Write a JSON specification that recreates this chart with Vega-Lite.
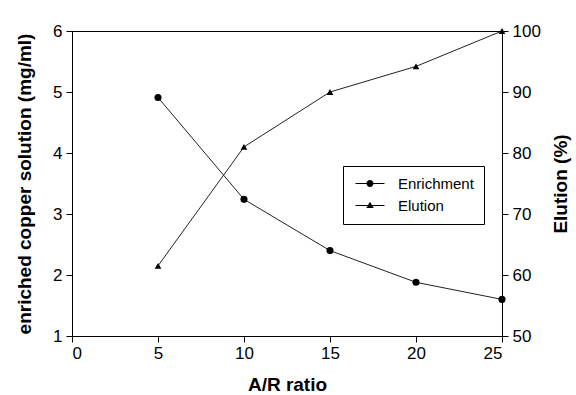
{
  "$schema": "https://vega.github.io/schema/vega-lite/v6.json",
  "width": 430,
  "height": 305,
  "autosize": {"type": "none"},
  "padding": {"left": 72, "top": 31, "right": 74, "bottom": 59},
  "background": "white",
  "config": {
    "font": "Liberation Sans",
    "view": {"stroke": "black", "strokeWidth": 1},
    "axis": {
      "grid": false,
      "domainColor": "black",
      "tickColor": "black",
      "tickSize": 6,
      "labelColor": "black",
      "labelFontSize": 17,
      "titleFontSize": 19,
      "titleFontWeight": "bold",
      "titleColor": "black",
      "labelFont": "Liberation Sans",
      "titleFont": "Liberation Sans"
    }
  },
  "data": {
    "values": [
      {"ar": 5, "Enrichment": 4.91, "Elution": 61.5},
      {"ar": 10, "Enrichment": 3.24, "Elution": 81.0},
      {"ar": 15, "Enrichment": 2.4, "Elution": 90.0},
      {"ar": 20, "Enrichment": 1.88, "Elution": 94.2},
      {"ar": 25, "Enrichment": 1.6, "Elution": 100.0}
    ]
  },
  "encoding": {
    "x": {
      "field": "ar",
      "type": "quantitative",
      "scale": {"domain": [0, 25], "nice": false},
      "axis": {"title": "A/R ratio", "values": [0, 5, 10, 15, 20, 25], "labelPadding": 3, "titlePadding": 14}
    }
  },
  "layer": [
    {
      "encoding": {
        "y": {
          "field": "Enrichment",
          "type": "quantitative",
          "scale": {"domain": [1, 6], "nice": false, "zero": false},
          "axis": {"orient": "left", "title": "enriched copper solution (mg/ml)", "values": [1, 2, 3, 4, 5, 6], "titlePadding": 18, "labelPadding": 4}
        }
      },
      "layer": [
        {"mark": {"type": "line", "color": "#222", "strokeWidth": 1}, "encoding": {}},
        {"mark": {"type": "point", "shape": "circle", "filled": true, "color": "black", "size": 50, "opacity": 1}, "encoding": {}}
      ]
    },
    {
      "encoding": {
        "y": {
          "field": "Elution",
          "type": "quantitative",
          "scale": {"domain": [50, 100], "nice": false, "zero": false},
          "axis": {"orient": "right", "title": "Elution (%)", "titleAngle": 270, "values": [50, 60, 70, 80, 90, 100], "titlePadding": 30, "labelPadding": 4}
        }
      },
      "layer": [
        {"mark": {"type": "line", "color": "#222", "strokeWidth": 1}, "encoding": {}},
        {"mark": {"type": "point", "shape": "triangle-up", "filled": true, "color": "black", "size": 45, "opacity": 1}, "encoding": {}}
      ]
    },
    {
      "transform": [{"fold": ["Enrichment", "Elution"], "as": ["series", "v"]}],
      "mark": {"type": "point", "opacity": 0, "filled": true, "fill": "black"},
      "encoding": {
        "shape": {
          "field": "series",
          "type": "nominal",
          "scale": {
            "domain": ["Enrichment", "Elution"],
            "range": [
              "M-1,-0.1H4.8V0.1H-1Z M2.6,0A0.7,0.7 0 1 1 1.2,0A0.7,0.7 0 1 1 2.6,0Z",
              "M-1,-0.1H4.8V0.1H-1Z M1.9,-0.75L2.65,0.5L1.15,0.5Z"
            ]
          },
          "legend": {
            "title": null,
            "orient": "none",
            "legendX": 271,
            "legendY": 135,
            "strokeColor": "black",
            "fillColor": "white",
            "padding": 10,
            "symbolSize": 100,
            "symbolOpacity": 1,
            "symbolFillColor": "black",
            "symbolStrokeWidth": 0,
            "labelFontSize": 15,
            "labelColor": "black",
            "labelFont": "Liberation Sans",
            "labelOffset": 30,
            "rowPadding": 6,
            "encode": {
              "symbols": {
                "update": {
                  "fill": {"value": "black"},
                  "strokeWidth": {"value": 0},
                  "opacity": {"value": 1}
                }
              }
            }
          }
        }
      }
    }
  ],
  "resolve": {"scale": {"y": "independent"}}
}
